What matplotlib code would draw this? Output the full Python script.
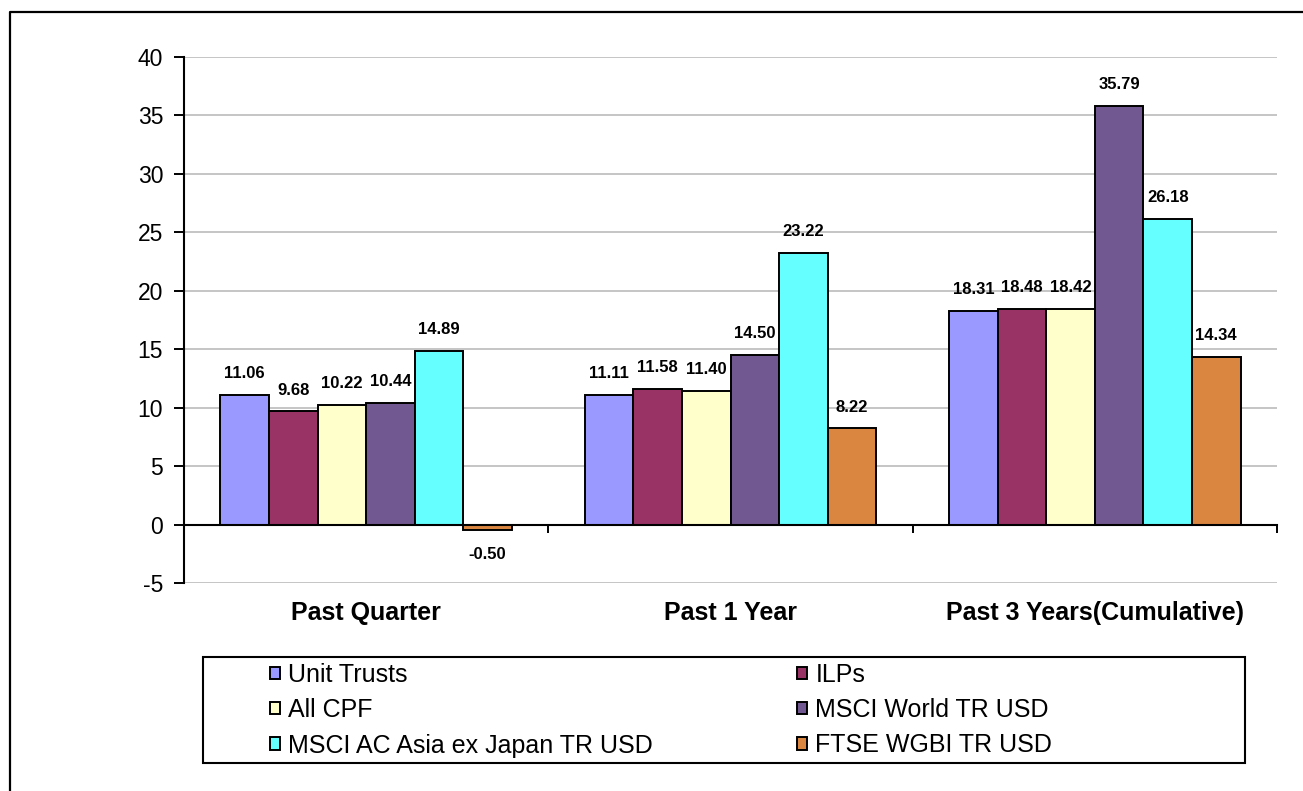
import numpy as np
import matplotlib
matplotlib.use("Agg")
import matplotlib.pyplot as plt
from matplotlib.lines import Line2D
from matplotlib.patches import Rectangle

plt.rcParams['font.family'] = ['Liberation Sans', 'DejaVu Sans']
plt.rcParams['axes.unicode_minus'] = False

# data
periods = ["Past Quarter", "Past 1 Year", "Past 3 Years(Cumulative)"]
series = ["Unit Trusts", "ILPs", "All CPF", "MSCI World TR USD",
          "MSCI AC Asia ex Japan TR USD", "FTSE WGBI TR USD"]
unit_trusts = [11.06, 11.11, 18.31]
ilps = [9.68, 11.58, 18.48]
all_cpf = [10.22, 11.40, 18.42]
msci_world = [10.44, 14.50, 35.79]
msci_asia = [14.89, 23.22, 26.18]
ftse_wgbi = [-0.50, 8.22, 14.34]
values = [unit_trusts, ilps, all_cpf, msci_world, msci_asia, ftse_wgbi]
colors = ["#9999FF", "#993366", "#FFFFCC", "#725890", "#66FFFF", "#DB8640"]

W, H = 1303, 791
fig = plt.figure(figsize=(W / 100, H / 100), dpi=100)
ax = fig.add_axes([184 / W, 1 - 583 / H, (1277 - 184) / W, (583 - 57) / H])

x = np.arange(len(periods))
bw = 1 / 7.5
bars = []
for i, (name, vals, c) in enumerate(zip(series, values, colors)):
    b = ax.bar(x + (i - 2.5) * bw, vals, bw, color=c, edgecolor='black',
               linewidth=1.4, label=name, zorder=3)
    bars.append(b)
    for rect, v in zip(b, vals):
        cx = rect.get_x() + rect.get_width() / 2
        if v >= 0:
            ax.annotate(f"{v:.2f}", (cx, v), xytext=(0, 10), textcoords='offset points',
                        ha='center', va='bottom', fontsize=12, fontweight='bold', zorder=4)
        else:
            ax.annotate(f"{v:.2f}", (cx, v), xytext=(0, -12), textcoords='offset points',
                        ha='center', va='top', fontsize=12, fontweight='bold', zorder=4)

ax.set_xlim(-0.5, 2.5)
ax.set_ylim(-5, 40)
ax.set_yticks(np.arange(-5, 41, 5))
ax.yaxis.grid(True, color='#C0C0C0', linewidth=1.3, zorder=0)
ax.set_axisbelow(True)
ax.tick_params(axis='y', labelsize=16.5, length=7, width=1.4, pad=8, direction='out')

for s in ['top', 'right']:
    ax.spines[s].set_visible(False)
ax.spines['left'].set_linewidth(1.5)
ax.spines['bottom'].set_position(('data', 0))
ax.spines['bottom'].set_linewidth(1.5)
ax.spines['bottom'].set_zorder(5)
ax.set_xticks([0.5, 1.5, 2.5])
ax.set_xticklabels([])
ax.tick_params(axis='x', length=6, width=1.4, direction='out')

sec = ax.secondary_xaxis(0)
sec.set_xticks(x)
sec.set_xticklabels(periods, fontsize=18, fontweight='bold')
sec.tick_params(length=0, pad=13)
sec.spines['bottom'].set_visible(False)

# legend box and two columns
fig.add_artist(Rectangle((203 / W, 1 - 763 / H), (1245 - 203) / W, (763 - 657) / H,
                         transform=fig.transFigure, fill=False, edgecolor='black',
                         linewidth=1.5))
leg_kw = dict(frameon=False, fontsize=18, handlelength=0.38, handleheight=0.38,
              handletextpad=0.35, labelspacing=0.45, borderpad=0, borderaxespad=0,
              loc='upper left')
l1 = fig.legend([bars[0], bars[2], bars[4]], [series[0], series[2], series[4]],
                bbox_to_anchor=(270 / W, 1 - 663 / H), **leg_kw)
l2 = fig.legend([bars[1], bars[3], bars[5]], [series[1], series[3], series[5]],
                bbox_to_anchor=(797 / W, 1 - 663 / H), **leg_kw)

# outer border (top and left visible)
fig.add_artist(Line2D([10 / W, 10 / W, 1.02], [-0.02, 1 - 12 / H, 1 - 12 / H],
                      transform=fig.transFigure, color='black', linewidth=1.6))

fig.savefig("out.png", dpi=100)
